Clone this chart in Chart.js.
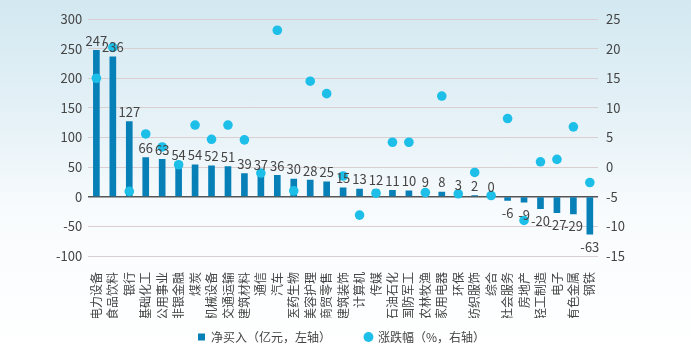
<!DOCTYPE html>
<html>
<head>
<meta charset="utf-8">
<script src="https://cdn.jsdelivr.net/npm/chart.js@4"></script>
<style>
    html, body { margin: 0; padding: 0; }
    body {
        width: 691px; height: 351px; overflow: hidden;
        background: linear-gradient(180deg, #d3e8f1 0%, #e6f2f7 35%, #f8fbfd 60%, #ffffff 100%);
    }
    #wrap { position: relative; width: 691px; height: 351px; }
</style>
</head>
<body>
<div id="wrap"><canvas id="flows" width="691" height="351"></canvas></div>
<script>
const industries = ['电力设备', '食品饮料', '银行', '基础化工', '公用事业', '非银金融', '煤炭', '机械设备', '交通运输', '建筑材料',
    '通信', '汽车', '医药生物', '美容护理', '商贸零售', '建筑装饰', '计算机', '传媒', '石油石化', '国防军工',
    '农林牧渔', '家用电器', '环保', '纺织服饰', '综合', '社会服务', '房地产', '轻工制造', '电子', '有色金属', '钢铁'];
const netBuy = [247, 236, 127, 66, 63, 54, 54, 52, 51, 39,
    37, 36, 30, 28, 25, 15, 13, 12, 11, 10,
    9, 8, 3, 2, 0, -6, -9, -20, -27, -29, -63];
const pctChange = [15.0, 20.2, -4.1, 5.6, 3.4, 0.4, 7.1, 4.7, 7.1, 4.6,
    -1.0, 23.1, -4.0, 14.5, 12.4, -1.5, -8.1, -4.4, 4.2, 4.2,
    -4.3, 12.0, -4.5, -0.9, -4.8, 8.2, -9.0, 0.9, 1.3, 6.8, -2.6];
const leftTicks = [300, 250, 200, 150, 100, 50, 0, -50, -100];
const rightTicks = [25, 20, 15, 10, 5, 0, -5, -10, -15];

const FONT = '"Noto Sans CJK SC", "Noto Sans", sans-serif';
const TEXT = '#444444';

// value labels above / below each bar
const barLabels = {
    id: 'barLabels',
    afterDatasetsDraw(chart) {
        const ctx = chart.ctx;
        const meta = chart.getDatasetMeta(1);
        ctx.save();
        ctx.font = '13px ' + FONT;
        ctx.fillStyle = TEXT;
        ctx.textAlign = 'center';
        meta.data.forEach((bar, i) => {
            const v = netBuy[i];
            if (v >= 0) {
                ctx.textBaseline = 'bottom';
                ctx.fillText(String(v), bar.x, bar.y - 3);
            } else {
                ctx.textBaseline = 'top';
                ctx.fillText(String(v), bar.x, bar.y + 6);
            }
        });
        ctx.restore();
    }
};

// pull the legend up so it sits just under the long category labels
const legendShift = {
    id: 'legendShift',
    afterLayout(chart) {
        if (chart.legend) {
            chart.legend.top -= 21;
            chart.legend.bottom -= 21;
        }
    }
};

const ctx = document.getElementById('flows');
new Chart(ctx, {
    data: {
        labels: industries,
        datasets: [{
            type: 'line',
            label: '涨跌幅（%，右轴）',
            data: pctChange,
            yAxisID: 'yR',
            showLine: false,
            backgroundColor: '#1dbfe8',
            borderColor: '#1dbfe8',
            pointRadius: 4.8,
            pointBorderWidth: 0,
            pointStyle: 'circle',
            order: 0
        }, {
            type: 'bar',
            label: '净买入（亿元，左轴）',
            data: netBuy,
            yAxisID: 'yL',
            backgroundColor: '#0780b8',
            barThickness: 6,
            pointStyle: 'rect',
            order: 1
        }]
    },
    options: {
        responsive: false,
        animation: false,
        devicePixelRatio: 1,
        layout: { padding: { left: 50, right: 58, top: 19, bottom: -23 } },
        plugins: {
            tooltip: { enabled: false },
            legend: {
                position: 'bottom',
                reverse: true,
                labels: {
                    usePointStyle: true,
                    boxWidth: 7,
                    boxHeight: 7,
                    color: TEXT,
                    font: { family: FONT, size: 12 },
                    padding: 34
                }
            }
        },
        scales: {
            x: {
                type: 'category',
                grid: { display: false },
                border: { display: false },
                afterFit: (axis) => { axis.height = 62; },
                ticks: {
                    autoSkip: false,
                    minRotation: 90,
                    maxRotation: 90,
                    color: TEXT,
                    font: { family: FONT, size: 12 },
                    padding: 8
                }
            },
            yL: {
                position: 'left',
                min: -100,
                max: 300,
                afterBuildTicks: (axis) => { axis.ticks = leftTicks.map(v => ({ value: v })); },
                border: { display: false },
                grid: {
                    color: (c) => c.tick && c.tick.value === 0 ? '#555555' : '#d9cfd0',
                    lineWidth: (c) => c.tick && c.tick.value === 0 ? 1.5 : 1,
                    drawTicks: false
                },
                ticks: { color: TEXT, font: { family: FONT, size: 13 }, padding: 6 }
            },
            yR: {
                position: 'right',
                min: -15,
                max: 25,
                afterBuildTicks: (axis) => { axis.ticks = rightTicks.map(v => ({ value: v })); },
                border: { display: false },
                grid: { display: false, drawTicks: false },
                ticks: { color: TEXT, font: { family: FONT, size: 13 }, padding: 8 }
            }
        }
    },
    plugins: [barLabels, legendShift]
});
</script>
</body>
</html>
